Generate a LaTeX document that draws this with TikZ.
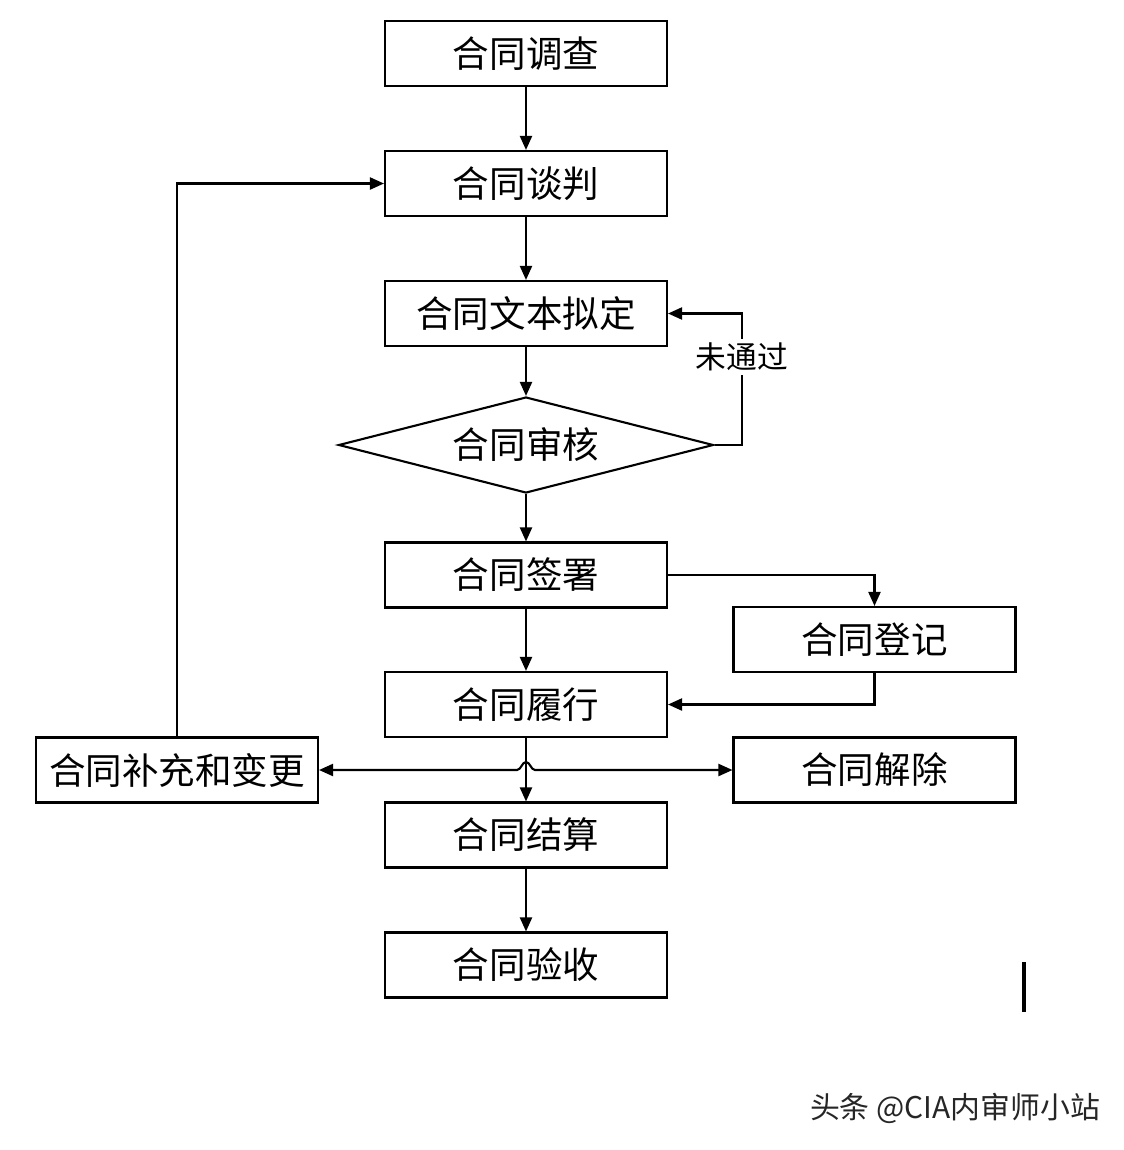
\documentclass[tikz,border=0pt]{standalone}
\usepackage{fontspec}
\setmainfont{Noto Sans CJK SC}
\usetikzlibrary{shapes.geometric,arrows.meta}

\begin{document}
\begin{tikzpicture}[x=0.02cm, y=-0.02cm, line width=1.2pt,
  box/.style={draw, minimum width=5.64cm, minimum height=1.3cm, inner sep=0pt,
    font=\fontsize{20.8}{22}\selectfont},
  check/.style={draw, diamond, aspect=3.9, minimum width=7.5cm, minimum height=1.92cm,
    inner sep=0pt, font=\fontsize{20.8}{22}\selectfont},
  flow/.style={-{Triangle[length=0.28cm,width=0.24cm]}},
  twoway/.style={{Triangle[length=0.28cm,width=0.24cm]}-{Triangle[length=0.28cm,width=0.24cm]}}]
  \useasboundingbox (0,0) rectangle (1124,1150);
  % main column
  \node[box] (survey) at (526,53.5) {合同调查};
  \node[box] (talk) at (526,183.5) {合同谈判};
  \node[box] (draft) at (526,313.5) {合同文本拟定};
  \node[check] (review) at (526,445) {合同审核};
  \node[box] (sign) at (526,575) {合同签署};
  \node[box] (perform) at (526,704.5) {合同履行};
  \node[box] (settle) at (526,835) {合同结算};
  \node[box] (accept) at (526,965) {合同验收};
  % side boxes
  \node[box] (register) at (874.5,639.5) {合同登记};
  \node[box] (amend) at (177,770) {合同补充和变更};
  \node[box] (cancel) at (874.5,770) {合同解除};
  % connectors
  \draw[flow] (survey) -- (talk);
  \draw[flow] (talk) -- (draft);
  \draw[flow] (draft) -- (review);
  \draw[flow] (review) -- (sign);
  \draw[flow] (sign) -- (perform);
  \draw[flow] (perform) -- (settle);
  \draw[flow] (settle) -- (accept);
  \draw[flow] (review.east) -- (742,445) -- (742,313.5) -- (draft.east);
  \node[fill=white, inner sep=2pt, font=\fontsize{17.5}{19}\selectfont] (fail) at (742,357) {未通过};
  \draw[flow] (sign.east) -- (874.5,575) -- (register.north);
  \draw[flow] (register.south) -- (874.5,704.5) -- (perform.east);
  \draw[flow] (amend.north) -- (177,183.5) -- (talk.west);
  \draw[twoway] (amend.east) -- (517,770) .. controls (521,770) and (522,762) .. (526,762)
    .. controls (530,762) and (531,770) .. (535,770) -- (cancel.west);
  % stray mark and watermark
  \draw[line width=2.3pt] (1024,962) -- (1024,1012);
  \node[text=black!85, font=\fontsize{17}{19}\selectfont] (mark) at (955,1108) {头条 @CIA内审师小站};
\end{tikzpicture}
\end{document}
